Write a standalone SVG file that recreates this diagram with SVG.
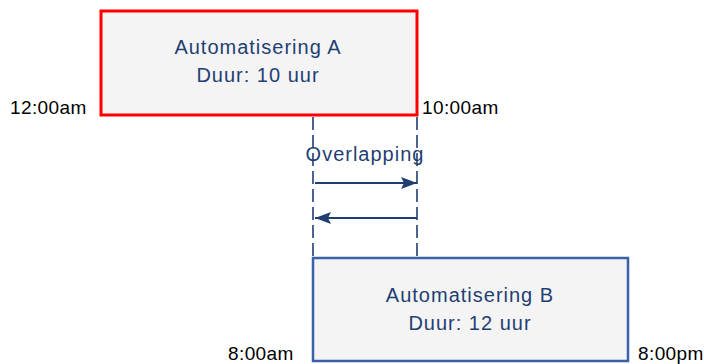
<svg xmlns="http://www.w3.org/2000/svg" width="704" height="364" viewBox="0 0 704 364">
<style>
.box{fill:#f4f4f4}
.lbl{font-family:"Liberation Sans",Arial,sans-serif;font-size:20px;letter-spacing:1px;fill:#1f3f73;text-anchor:middle}
.time{font-family:"Liberation Sans",Arial,sans-serif;font-size:19px;letter-spacing:0.4px;fill:#000}
.dash{stroke:#1f3f73;stroke-width:1.6;stroke-dasharray:13 5;fill:none}
.arr{stroke:#1f3f73;stroke-width:2;fill:none}
</style>
<defs>
<marker id="ah2" viewBox="0 0 16 12" refX="16" refY="6" markerWidth="16" markerHeight="12" markerUnits="userSpaceOnUse" orient="auto">
<path d="M0,0 L16,6 L0,12 L3,6 z" fill="#1f3f73"/>
</marker>
</defs>
<g id="connectors">
<line class="dash" x1="313" y1="117" x2="313" y2="257"/>
<line class="dash" x1="417" y1="117" x2="417" y2="257"/>
<line class="arr" x1="315" y1="183" x2="417" y2="183" marker-end="url(#ah2)"/>
<line class="arr" x1="417" y1="218" x2="315" y2="218" marker-end="url(#ah2)"/>
<text class="lbl" x="365" y="161">Overlapping</text>
</g>
<g id="nodeA">
<rect class="box" x="101" y="11" width="316" height="104" stroke="#ff0000" stroke-width="3"/>
<text class="lbl" x="258" y="54">Automatisering A</text>
<text class="lbl" x="258" y="82">Duur: 10 uur</text>
</g>
<g id="nodeB">
<rect class="box" x="313" y="258" width="315" height="103" stroke="#3b62a8" stroke-width="2.5"/>
<text class="lbl" x="470" y="302">Automatisering B</text>
<text class="lbl" x="470" y="330">Duur: 12 uur</text>
</g>
<g id="times">
<text class="time" x="10" y="114">12:00am</text>
<text class="time" x="422" y="114">10:00am</text>
<text class="time" x="228" y="360">8:00am</text>
<text class="time" x="638" y="360">8:00pm</text>
</g>
</svg>
